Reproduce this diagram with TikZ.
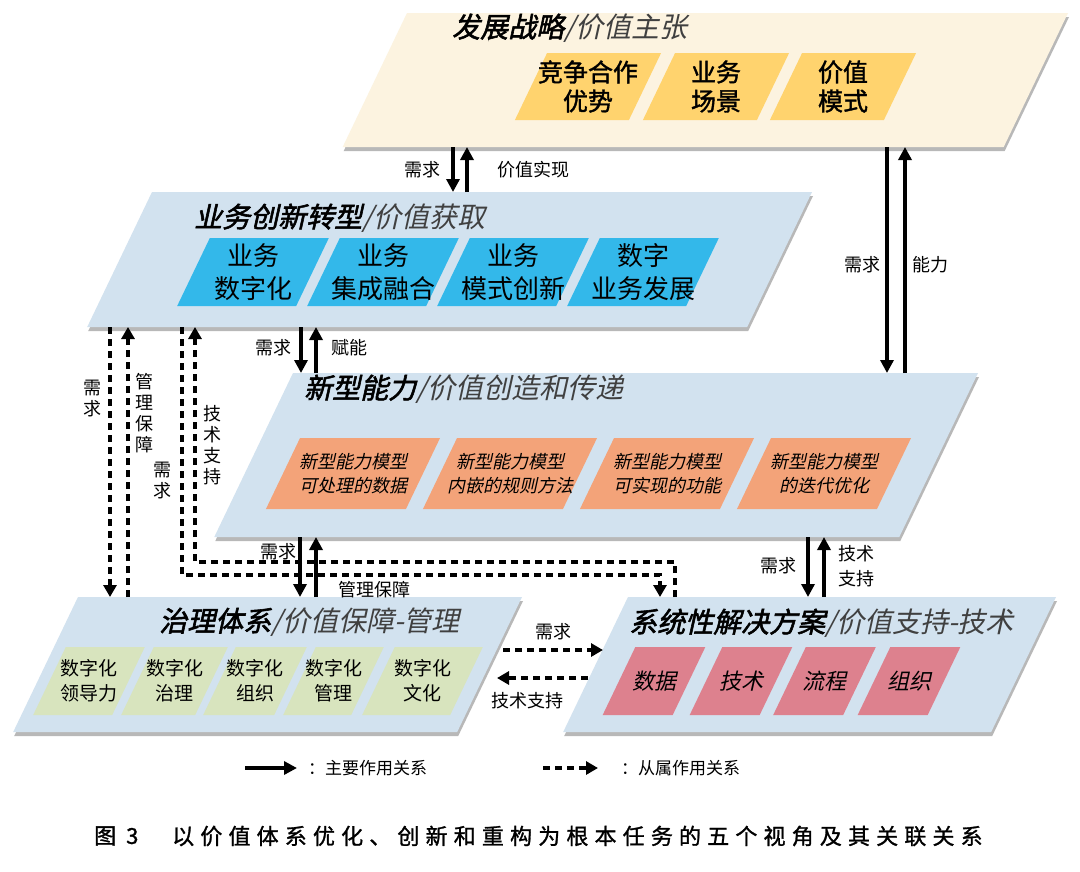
\documentclass[tikz,border=0pt]{standalone}
\usepackage{fontspec}
\usetikzlibrary{arrows.meta,fit}
\newfontfamily\cjk{Noto Sans CJK SC}
\newfontfamily\cjksl{Noto Sans CJK SC}[FakeSlant=0.22]
\newfontfamily\cjkbsl{Noto Sans CJK SC}[FakeSlant=0.22,FakeBold=2]
\newfontfamily\cjkb{Noto Sans CJK SC}[FakeBold=1.5]
\newfontfamily\cjkcap{Noto Sans CJK SC}[FakeBold=1.2,LetterSpace=28]
\definecolor{cream}{HTML}{FCF3E0}
\definecolor{gold}{HTML}{FFD36E}
\definecolor{pale}{HTML}{D2E2EF}
\definecolor{cyanb}{HTML}{33B8EA}
\definecolor{salmon}{HTML}{F3A379}
\definecolor{sage}{HTML}{D8E4BE}
\definecolor{rose}{HTML}{DD818E}
% plate: name, top y, bottom y, top-left x, top-right x, colour
\newcommand\plate[6]{%
  \pgfmathsetmacro\poff{0.48*(#3-#2)}%
  \fill[black!28] ({#4+1},{#2+4}) -- ({#5+1},{#2+4}) -- ({#5-\poff+1},{#3+4}) -- ({#4-\poff+1},{#3+4}) -- cycle;
  \fill[#6] (#4,#2) -- (#5,#2) -- ({#5-\poff},#3) -- ({#4-\poff},#3) -- cycle;
  \node[inner sep=0pt,outer sep=0pt,fit={({#4-\poff},#2) (#5,#3)}] (#1) {};
}
% tile: name, cx, cy, width, height, colour, text, style
\newcommand\tile[8]{%
  \pgfmathsetmacro\toff{0.24*#5}%
  \fill[#6] ({#2-#4/2+\toff},{#3-#5/2}) -- ({#2+#4/2+\toff},{#3-#5/2}) -- ({#2+#4/2-\toff},{#3+#5/2}) -- ({#2-#4/2-\toff},{#3+#5/2}) -- cycle;
  \node[align=center,inner sep=0pt,#8] (#1) at (#2,#3) {#7};
}
\tikzset{
  main/.style={line width=3.6pt,-{Triangle[length=13pt,width=13pt]}},
  sub/.style={line width=3.6pt,dash pattern=on 7pt off 5pt,-{Triangle[length=12pt,width=13pt]}},
  lab/.style={font=\cjk\fontsize{18}{21}\selectfont,inner sep=0pt,align=center},
  ttl/.style={font=\fontsize{28}{32}\selectfont,inner sep=0pt,anchor=west},
  fa/.style={font=\cjkb\fontsize{25}{29}\selectfont},
  fb/.style={font=\cjk\fontsize{26}{33}\selectfont},
  fc/.style={font=\cjksl\fontsize{18}{24}\selectfont},
  fd/.style={font=\cjk\fontsize{19}{25}\selectfont},
  fe/.style={font=\cjksl\fontsize{22}{26}\selectfont},
}
\begin{document}
\begin{tikzpicture}[x=1pt,y=-1pt]
\useasboundingbox (0,0) rectangle (1080,871);
\fill[white] (0,0) rectangle (1080,871);

% plates
\plate{P1}{13}{147}{407}{1068}{cream}
\plate{P2}{192}{327}{152}{812}{pale}
\plate{P3}{373}{537}{293}{978}{pale}
\plate{P4}{597}{732}{78}{522}{pale}
\plate{P5}{597}{732}{628}{1056}{pale}

% titles
\node[ttl] (T1) at (452,28) {\cjkbsl 发展战略\cjksl\color{black!75}/价值主张};
\node[ttl] (T2) at (194,218) {\cjkbsl 业务创新转型\cjksl\color{black!75}/价值获取};
\node[ttl] (T3) at (304,389) {\cjkbsl 新型能力\cjksl\color{black!75}/价值创造和传递};
\node[ttl] (T4) at (159,622) {\cjkbsl 治理体系\cjksl\color{black!75}/价值保障-管理};
\node[ttl] (T5) at (629,623) {\cjkbsl 系统性解决方案\cjksl\color{black!75}/价值支持-技术};

% tiles P1
\tile{a1}{588}{86.5}{114}{67}{gold}{竞争合作\\优势}{fa}
\tile{a2}{716}{86.5}{114}{67}{gold}{业务\\场景}{fa}
\tile{a3}{843}{86.5}{114}{67}{gold}{价值\\模式}{fa}
% tiles P2
\tile{b1}{253}{272}{119}{68}{cyanb}{业务\\数字化}{fb}
\tile{b2}{383}{272}{119}{68}{cyanb}{业务\\集成融合}{fb}
\tile{b3}{513}{272}{119}{68}{cyanb}{业务\\模式创新}{fb}
\tile{b4}{643}{272}{119}{68}{cyanb}{数字\\业务发展}{fb}
% tiles P3
\tile{c1}{353}{473.5}{140}{71}{salmon}{新型能力模型\\可处理的数据}{fc}
\tile{c2}{510}{473.5}{140}{71}{salmon}{新型能力模型\\内嵌的规则方法}{fc}
\tile{c3}{667}{473.5}{140}{71}{salmon}{新型能力模型\\可实现的功能}{fc}
\tile{c4}{824}{473.5}{140}{71}{salmon}{新型能力模型\\的迭代优化}{fc}
% tiles P4
\tile{d1}{89}{681}{79}{68}{sage}{数字化\\领导力}{fd}
\tile{d2}{174.5}{681}{74}{68}{sage}{数字化\\治理}{fd}
\tile{d3}{255}{681}{71}{68}{sage}{数字化\\组织}{fd}
\tile{d4}{333.5}{681}{68}{68}{sage}{数字化\\管理}{fd}
\tile{d5}{422.5}{681}{88}{68}{sage}{数字化\\文化}{fd}
% tiles P5
\tile{e1}{654}{681}{70}{68}{rose}{数据}{fe}
\tile{e2}{741}{681}{70}{68}{rose}{技术}{fe}
\tile{e3}{824.5}{681}{70}{68}{rose}{流程}{fe}
\tile{e4}{909}{681}{70}{68}{rose}{组织}{fe}

% dashed connectors P2 <-> P5
\draw[sub] (182,0 |- P2.south) |- (660,575) -- (660,0 |- P5.north);
\draw[sub] (675,0 |- P5.north) |- (195,562) -- (195,0 |- P2.south);

% main connectors
\draw[main] (453,0 |- P1.south) -- (453,0 |- P2.north);
\draw[main] (467,0 |- P2.north) -- (467,0 |- P1.south);
\draw[main] (887,0 |- P1.south) -- (887,0 |- P3.north);
\draw[main] (905,0 |- P3.north) -- (905,0 |- P1.south);
\draw[main] (301,0 |- P2.south) -- (301,0 |- P3.north);
\draw[main] (316,0 |- P3.north) -- (316,0 |- P2.south);
\draw[main] (300,0 |- P3.south) -- (300,0 |- P4.north);
\draw[main] (316,0 |- P4.north) -- (316,0 |- P3.south);
\draw[main] (808,0 |- P3.south) -- (808,0 |- P5.north);
\draw[main] (824,0 |- P5.north) -- (824,0 |- P3.south);

% dashed connectors P2 <-> P4
\draw[sub] (110,0 |- P2.south) -- (110,0 |- P4.north);
\draw[sub] (128,0 |- P4.north) -- (128,0 |- P2.south);
% dashed connectors P4 <-> P5
\coordinate (q1) at (503,650);
\coordinate (q2) at (603,650);
\coordinate (q3) at (588,678);
\coordinate (q4) at (497,678);
\draw[sub] (q1) -- (q2);
\draw[sub] (q3) -- (q4);

% labels
\node[lab] (l1) at (422,170) {需求};
\node[lab] (l2) at (533,170) {价值实现};
\node[lab] (l3) at (862,265) {需求};
\node[lab] (l4) at (930,265) {能力};
\node[lab] (l5) at (273,348) {需求};
\node[lab] (l6) at (349,348) {赋能};
\node[lab] (l7) at (278,552) {需求};
\node[lab] (l8) at (374,590) {管理保障};
\node[lab] (l9) at (778,566) {需求};
\node[lab,font=\cjk\fontsize{18}{25}\selectfont] (l10) at (856,566) {技术\\支持};
\node[lab] (l11) at (92,399) {需\\求};
\node[lab] (l12) at (144,413) {管\\理\\保\\障};
\node[lab] (l13) at (162,481) {需\\求};
\node[lab] (l14) at (212,445) {技\\术\\支\\持};
\node[lab] (l15) at (553,632) {需求};
\node[lab] (l16) at (527,701) {技术支持};

% legend
\coordinate (g1) at (245,768);
\coordinate (g2) at (297,768);
\coordinate (g3) at (543,768);
\coordinate (g4) at (598,768);
\draw[main] (g1) -- (g2);
\draw[sub] (g3) -- (g4);
\node[lab,anchor=west,font=\cjk\fontsize{17}{20}\selectfont] (leg1) at (308,768) {：主要作用关系};
\node[lab,anchor=west,font=\cjk\fontsize{17}{20}\selectfont] (leg2) at (621,768) {：从属作用关系};

% caption
\node[anchor=west,inner sep=0pt,font=\cjkcap\fontsize{22}{26}\selectfont] (cap1) at (94,836) {图\hspace{10pt}3};
\node[anchor=west,inner sep=0pt,font=\cjkcap\fontsize{22}{26}\selectfont] (cap2) at (172,836) {以价值体系优化、创新和重构为根本任务的五个视角及其关联关系};
\end{tikzpicture}
\end{document}
